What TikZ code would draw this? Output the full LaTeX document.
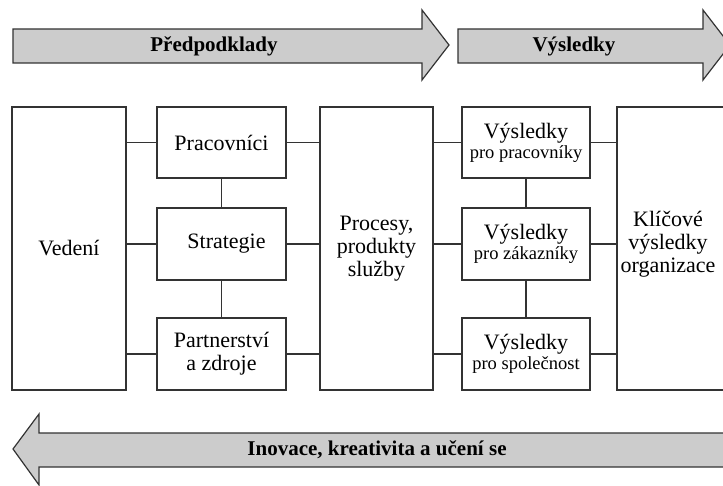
\documentclass[tikz,border=0pt]{standalone}
\usepackage{fontspec}
\setmainfont{Liberation Serif}
\definecolor{arrowfill}{HTML}{CCCCCC}
\definecolor{edge}{HTML}{333333}
\newcommand{\bigtxt}{\fontsize{22}{23}\selectfont}
\newcommand{\smalltxt}{\fontsize{18.5}{21}\selectfont}
\newcommand{\headtxt}{\fontsize{21}{23}\selectfont\bfseries}
\begin{document}
\begin{tikzpicture}[x=1pt,y=-1pt,
  box/.style={draw=edge,line width=1.2pt,fill=white,inner sep=0pt,align=center,font=\bigtxt},
  wire/.style={draw=edge,line width=1.2pt},
  band/.style={draw=edge,line width=1.2pt,fill=arrowfill,line join=miter},
  bandtext/.style={font=\headtxt,inner sep=0pt}]
\useasboundingbox (0,0) rectangle (723,486);
\clip (0,0) rectangle (723,486);

% banner arrows
\draw[band] (13,29) -- (422,29) -- (422,10) -- (449,45) -- (422,80) -- (422,63) -- (13,63) -- cycle;
\node[bandtext] (pre) at (214,46) {Předpodklady};
\draw[band] (458,29) -- (703,29) -- (703,10) -- (730,45) -- (703,80) -- (703,63) -- (458,63) -- cycle;
\node[bandtext] (res) at (574,46) {Výsledky};
\draw[band] (13,449) -- (39,414) -- (39,433) -- (745,433) -- (745,467) -- (39,467) -- (39,485) -- cycle;
\node[bandtext] (inno) at (377,450) {Inovace, kreativita a učení se};

% columns of boxes
\node[box,minimum width=114,minimum height=283] (ved) at (69,248.5) {Vedení};
\node[box,minimum width=129,minimum height=71] (pra) at (221.5,142.5) {Pracovníci};
\node[box,minimum width=129,minimum height=72] (str) at (221.5,244) {\hspace*{10pt}Strategie};
\node[box,minimum width=129,minimum height=72] (par) at (221.5,354) {Partnerství\\a zdroje};
\node[box,minimum width=113,minimum height=283] (proc) at (376.5,248.5) {Procesy,\\produkty\\služby};
\node[box,minimum width=128,minimum height=71] (vpra) at (526,142.5) {Výsledky\\[-3pt]{\smalltxt pro pracovníky}};
\node[box,minimum width=128,minimum height=72] (vzak) at (526,244) {Výsledky\\[-3pt]{\smalltxt pro zákazníky}};
\node[box,minimum width=128,minimum height=72] (vspo) at (526,354) {Výsledky\\[-3pt]{\smalltxt pro společnost}};
\node[box,minimum width=144,minimum height=283] (kli) at (689,248.5) {};
\node[font=\bigtxt,align=center,inner sep=0pt] (klitxt) at (668,244) {Klíčové\\výsledky\\organizace};

% connectors
\foreach \b in {pra,str,par}{
  \draw[wire] (ved.east |- \b.west) -- (\b.west);
  \draw[wire] (\b.east) -- (proc.west |- \b.east);
}
\foreach \b in {vpra,vzak,vspo}{
  \draw[wire] (proc.east |- \b.west) -- (\b.west);
  \draw[wire] (\b.east) -- (kli.west |- \b.east);
}
\draw[wire] (pra.south) -- (str.north);
\draw[wire] (str.south) -- (par.north);
\draw[wire] (vpra.south) -- (vzak.north);
\draw[wire] (vzak.south) -- (vspo.north);
\end{tikzpicture}
\end{document}
